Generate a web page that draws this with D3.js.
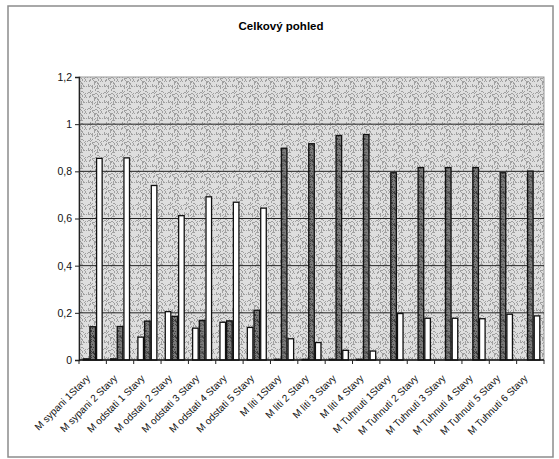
<!DOCTYPE html>
<html>
<head>
<meta charset="utf-8">
<script src="https://cdn.jsdelivr.net/npm/d3@7"></script>
<style>
  html, body { margin: 0; padding: 0; background: #fff; }
  svg { display: block; font-family: "Liberation Sans", Arial, sans-serif; }
</style>
</head>
<body>
<svg id="chart" width="559" height="459"></svg>
<script>
// Category labels along the x axis
const categories = [
  "M sypani 1Stavy", "M sypani 2 Stavy",
  "M odstati 1 Stavy", "M odstati 2 Stavy", "M odstati 3 Stavy", "M odstati 4 Stavy", "M odstati 5 Stavy",
  "M liti 1Stavy", "M liti 2 Stavy", "M liti 3 Stavy", "M liti 4 Stavy",
  "M Tuhnuti 1Stavy", "M Tuhnuti 2 Stavy", "M Tuhnuti 3 Stavy", "M Tuhnuti 4 Stavy", "M Tuhnuti 5 Stavy", "M Tuhnuti 6 Stavy"
];

// Three series per category
const seriesNames = ["Rada1", "Rada2", "Rada3"];
const rada1 = [0.005, 0.005, 0.097, 0.205, 0.135, 0.16, 0.138, 0.003, 0.003, 0.003, 0.003, 0, 0, 0, 0, 0, 0];
const rada2 = [0.141, 0.142, 0.165, 0.185, 0.168, 0.166, 0.211, 0.898, 0.917, 0.952, 0.956, 0.794, 0.816, 0.816, 0.816, 0.794, 0.801];
const rada3 = [0.855, 0.857, 0.74, 0.612, 0.692, 0.669, 0.644, 0.09, 0.074, 0.041, 0.038, 0.197, 0.177, 0.177, 0.175, 0.194, 0.187];

// Y axis ticks, written with decimal commas
const yTicks = [0, 0.2, 0.4, 0.6, 0.8, 1, 1.2];

const svg = d3.select("#chart");

// Pixel noise patterns for the plot area and the dark bars
const defs = svg.append("defs");
function noisePattern(id, base, dotColor, density, seed) {
  const size = 16;
  const p = defs.append("pattern")
    .attr("id", id).attr("patternUnits", "userSpaceOnUse")
    .attr("width", size).attr("height", size);
  p.append("rect").attr("width", size).attr("height", size).attr("fill", base);
  let s = seed;
  const rnd = () => { s = (s * 9301 + 49297) % 233280; return s / 233280; };
  for (let y = 0; y < size; y++) {
    for (let x = 0; x < size; x++) {
      if (rnd() < density) {
        p.append("rect").attr("x", x).attr("y", y).attr("width", 1).attr("height", 1).attr("fill", dotColor);
      }
    }
  }
}
noisePattern("plotbg", "#dedede", "#a0a0a0", 0.25, 17);
noisePattern("darkbar", "#7a7a7a", "#3c3c3c", 0.45, 91);

// Outer chart frame
svg.append("rect")
  .attr("x", 8).attr("y", 6).attr("width", 545).attr("height", 451)
  .attr("fill", "none").attr("stroke", "#8c8c8c").attr("stroke-width", 1.5);

// Title
svg.append("text")
  .attr("x", 281).attr("y", 30)
  .attr("text-anchor", "middle")
  .attr("font-size", 11.5).attr("font-weight", "bold")
  .text("Celkový pohled");

const plot = { left: 79, right: 544, top: 77, bottom: 360 };

const x0 = d3.scaleBand().domain(categories).range([plot.left, plot.right]).padding(0);
const x1 = d3.scaleBand().domain(seriesNames)
  .range([3.7, x0.bandwidth() - 3.7]).paddingInner(0.02);
const y = d3.scaleLinear().domain([0, 1.2]).range([plot.bottom, plot.top]);

// Plot area background
svg.append("rect")
  .attr("x", plot.left).attr("y", plot.top)
  .attr("width", plot.right - plot.left).attr("height", plot.bottom - plot.top)
  .attr("fill", "url(#plotbg)").attr("stroke", "#9a9a9a").attr("stroke-width", 1);

// Horizontal gridlines
svg.append("g")
  .selectAll("line")
  .data(yTicks.filter(d => d > 0 && d < 1.2))
  .join("line")
  .attr("x1", plot.left).attr("x2", plot.right)
  .attr("y1", d => y(d)).attr("y2", d => y(d))
  .attr("stroke", "#222").attr("stroke-width", 1);

// Bars
const table = categories.map((c, i) => ({ cat: c, vals: [rada1[i], rada2[i], rada3[i]] }));
const groups = svg.append("g").selectAll("g")
  .data(table)
  .join("g")
  .attr("transform", d => `translate(${x0(d.cat)},0)`);

groups.selectAll("rect")
  .data(d => d.vals.map((v, k) => ({ key: seriesNames[k], v })))
  .join("rect")
  .attr("x", d => x1(d.key) + 0.5)
  .attr("width", x1.bandwidth() - 1)
  .attr("y", d => y(d.v))
  .attr("height", d => y(0) - y(d.v))
  .attr("fill", d => d.key === "Rada2" ? "url(#darkbar)" : "#ffffff")
  .attr("stroke", "#111")
  .attr("stroke-width", 1.3);

// Y axis
const yAxis = d3.axisLeft(y)
  .tickValues(yTicks)
  .tickSize(4)
  .tickFormat(d => d3.format("~g")(d).replace(".", ","));
const gy = svg.append("g").attr("transform", `translate(${plot.left},0)`).call(yAxis);
gy.select(".domain").attr("stroke", "#222").attr("stroke-width", 1.3);
gy.selectAll(".tick line").attr("stroke", "#222");
gy.selectAll(".tick text").attr("font-size", 10.5).attr("fill", "#111")
  .attr("font-family", "Liberation Sans, Arial, sans-serif").attr("x", -7);

// X axis: ticks on category boundaries, labels at 45 degrees
const gx = svg.append("g").attr("transform", `translate(0,${plot.bottom})`);
gx.append("line")
  .attr("x1", plot.left).attr("x2", plot.right)
  .attr("stroke", "#111").attr("stroke-width", 1.6);
const bounds = categories.map(c => x0(c)).concat([plot.right]);
gx.selectAll("line.tk")
  .data(bounds)
  .join("line").attr("class", "tk")
  .attr("x1", d => d).attr("x2", d => d)
  .attr("y1", 0).attr("y2", 4)
  .attr("stroke", "#222");
gx.selectAll("text")
  .data(categories)
  .join("text")
  .attr("transform", d => `translate(${x0(d) + x0.bandwidth() / 2 - 2},${19}) rotate(-45)`)
  .attr("text-anchor", "end")
  .attr("font-size", 10)
  .attr("fill", "#111")
  .text(d => d);
</script>
</body>
</html>
